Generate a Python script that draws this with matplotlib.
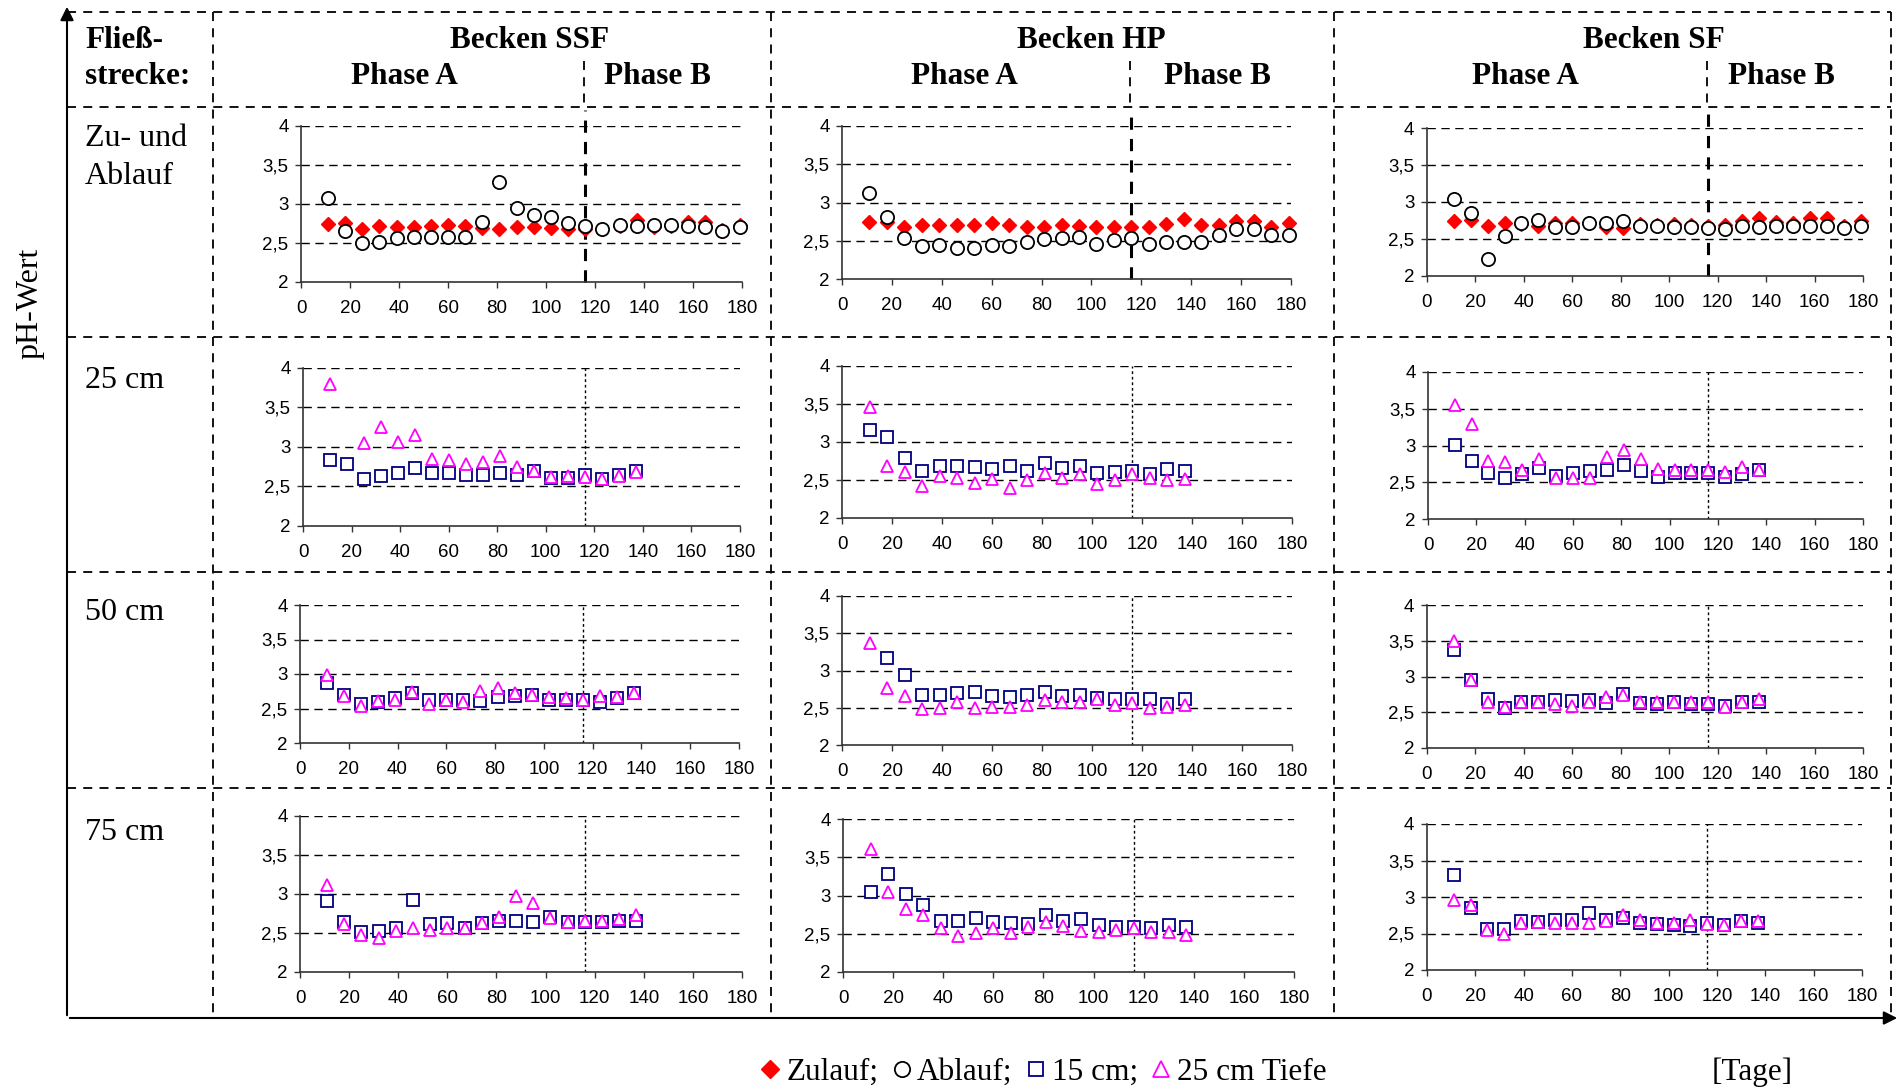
import matplotlib.pyplot as plt
from matplotlib.lines import Line2D
from matplotlib.patches import FancyArrowPatch

# Probenahmetage
days = [11, 18, 25, 32, 39, 46, 53, 60, 67, 74, 81, 88, 95, 102, 109,
        116, 123, 130, 137, 144, 151, 158, 165, 172, 179]
days_depth = days[:19]
phase_change = 116

# Zu- und Ablauf
ssf_zulauf = [2.75, 2.76, 2.68, 2.72, 2.71, 2.71, 2.72, 2.73, 2.72, 2.69, 2.68, 2.71, 2.70,
              2.69, 2.68, 2.68, 2.68, 2.72, 2.80, 2.71, 2.72, 2.77, 2.77, 2.67, 2.73]
ssf_ablauf = [3.08, 2.66, 2.50, 2.51, 2.57, 2.58, 2.58, 2.58, 2.58, 2.77, 3.28, 2.95, 2.86,
              2.83, 2.76, 2.72, 2.68, 2.73, 2.72, 2.73, 2.73, 2.72, 2.70, 2.65, 2.70]
hp_zulauf = [2.75, 2.75, 2.68, 2.71, 2.70, 2.70, 2.71, 2.73, 2.71, 2.68, 2.68, 2.70, 2.69,
             2.68, 2.68, 2.68, 2.68, 2.72, 2.78, 2.71, 2.71, 2.76, 2.76, 2.68, 2.73]
hp_ablauf = [3.12, 2.81, 2.54, 2.43, 2.44, 2.41, 2.41, 2.44, 2.43, 2.49, 2.52, 2.54, 2.55,
             2.46, 2.51, 2.53, 2.46, 2.48, 2.49, 2.48, 2.58, 2.66, 2.66, 2.58, 2.58]
sf_zulauf = [2.74, 2.76, 2.67, 2.71, 2.70, 2.68, 2.71, 2.72, 2.71, 2.66, 2.65, 2.70, 2.69,
             2.70, 2.69, 2.68, 2.69, 2.75, 2.79, 2.73, 2.72, 2.78, 2.78, 2.68, 2.74]
sf_ablauf = [3.04, 2.85, 2.23, 2.54, 2.71, 2.76, 2.66, 2.66, 2.71, 2.71, 2.75, 2.68, 2.68,
             2.66, 2.66, 2.65, 2.64, 2.68, 2.66, 2.67, 2.67, 2.67, 2.67, 2.65, 2.67]

# 25 cm Fliessstrecke (15 cm / 25 cm Tiefe)
ssf_25_d15 = [2.83, 2.78, 2.59, 2.63, 2.67, 2.74, 2.67, 2.67, 2.64, 2.65, 2.67, 2.64, 2.69,
              2.61, 2.61, 2.64, 2.59, 2.64, 2.70]
ssf_25_d25 = [3.80, None, 3.05, 3.25, 3.06, 3.15, 2.85, 2.84, 2.78, 2.81, 2.88, 2.75, 2.69,
              2.62, 2.63, 2.62, 2.59, 2.63, 2.68]
hp_25_d15 = [3.16, 3.06, 2.79, 2.62, 2.69, 2.68, 2.67, 2.65, 2.68, 2.62, 2.72, 2.66, 2.69,
             2.59, 2.60, 2.62, 2.58, 2.65, 2.62]
hp_25_d25 = [3.46, 2.69, 2.60, 2.42, 2.55, 2.52, 2.46, 2.51, 2.39, 2.50, 2.59, 2.52, 2.58,
             2.45, 2.50, 2.58, 2.52, 2.50, 2.51]
sf_25_d15 = [3.01, 2.79, 2.62, 2.56, 2.61, 2.69, 2.59, 2.62, 2.65, 2.67, 2.74, 2.65, 2.57,
             2.62, 2.62, 2.62, 2.57, 2.61, 2.66]
sf_25_d25 = [3.55, 3.29, 2.79, 2.77, 2.66, 2.81, 2.56, 2.56, 2.56, 2.85, 2.94, 2.81, 2.68,
             2.66, 2.66, 2.66, 2.64, 2.71, 2.66]

# 50 cm Fliessstrecke
ssf_50_d15 = [2.87, 2.69, 2.57, 2.59, 2.65, 2.72, 2.62, 2.62, 2.62, 2.61, 2.67, 2.68, 2.70,
              2.62, 2.62, 2.62, 2.59, 2.65, 2.72]
ssf_50_d25 = [2.98, 2.68, 2.53, 2.61, 2.62, 2.74, 2.57, 2.62, 2.59, 2.76, 2.79, 2.73, 2.69,
              2.67, 2.65, 2.63, 2.68, 2.67, 2.72]
hp_50_d15 = [None, 3.17, 2.94, 2.67, 2.67, 2.70, 2.71, 2.66, 2.64, 2.67, 2.71, 2.66, 2.67,
             2.63, 2.62, 2.62, 2.62, 2.55, 2.62]
hp_50_d25 = [3.37, 2.76, 2.66, 2.48, 2.50, 2.58, 2.49, 2.51, 2.51, 2.54, 2.61, 2.58, 2.58,
             2.62, 2.54, 2.57, 2.50, 2.51, 2.54]
sf_50_d15 = [3.37, 2.95, 2.69, 2.56, 2.64, 2.64, 2.67, 2.66, 2.67, 2.63, 2.75, 2.63, 2.61,
             2.64, 2.61, 2.61, 2.59, 2.64, 2.65]
sf_50_d25 = [3.49, 2.95, 2.65, 2.57, 2.64, 2.64, 2.61, 2.59, 2.64, 2.72, 2.74, 2.65, 2.64,
             2.65, 2.64, 2.64, 2.57, 2.65, 2.68]

# 75 cm Fliessstrecke
ssf_75_d15 = [2.91, 2.64, 2.51, 2.52, 2.56, 2.92, 2.62, 2.63, 2.56, 2.63, 2.65, 2.66, 2.64,
              2.70, 2.64, 2.64, 2.64, 2.66, 2.66]
ssf_75_d25 = [3.11, 2.62, 2.47, 2.44, 2.53, 2.57, 2.54, 2.57, 2.56, 2.63, 2.71, 2.98, 2.89,
              2.69, 2.64, 2.65, 2.65, 2.68, 2.73]
hp_75_d15 = [3.05, 3.28, 3.02, 2.87, 2.67, 2.67, 2.71, 2.65, 2.64, 2.63, 2.75, 2.67, 2.69,
             2.62, 2.59, 2.59, 2.57, 2.61, 2.59]
hp_75_d25 = [3.61, 3.05, 2.83, 2.75, 2.57, 2.47, 2.51, 2.57, 2.51, 2.59, 2.65, 2.60, 2.53,
             2.52, 2.55, 2.57, 2.52, 2.52, 2.49]
sf_75_d15 = [3.30, 2.85, 2.56, 2.56, 2.67, 2.66, 2.69, 2.69, 2.78, 2.69, 2.71, 2.65, 2.63,
             2.62, 2.60, 2.65, 2.62, 2.67, 2.65]
sf_75_d25 = [2.96, 2.89, 2.55, 2.50, 2.64, 2.66, 2.65, 2.65, 2.65, 2.67, 2.75, 2.69, 2.65,
             2.65, 2.69, 2.63, 2.61, 2.67, 2.67]

becken = ['Becken SSF', 'Becken HP', 'Becken SF']
strecken = ['25 cm', '50 cm', '75 cm']
y_ticks = [2, 2.5, 3, 3.5, 4]
y_ticklabels = ['2', '2,5', '3', '3,5', '4']
x_ticks = list(range(0, 181, 20))

row_top = [(ssf_zulauf, ssf_ablauf), (hp_zulauf, hp_ablauf), (sf_zulauf, sf_ablauf)]
rows_depth = [
    [(ssf_25_d15, ssf_25_d25), (hp_25_d15, hp_25_d25), (sf_25_d15, sf_25_d25)],
    [(ssf_50_d15, ssf_50_d25), (hp_50_d15, hp_50_d25), (sf_50_d15, sf_50_d25)],
    [(ssf_75_d15, ssf_75_d25), (hp_75_d15, hp_75_d25), (sf_75_d15, sf_75_d25)],
]

SERIF = 'Liberation Serif'
SANS = 'Liberation Sans'
W, H = 1901, 1091
fig = plt.figure(figsize=(W / 100, H / 100), dpi=100)


def fx(px):
    return px / W


def fy(py):
    return 1 - py / H


# plot boxes in pixels: left, top, right, bottom
boxes = [
    [(301, 126, 742, 282), (842, 126, 1291, 279), (1427, 128, 1863, 276)],
    [(303, 368, 740, 526), (842, 366, 1292, 518), (1428, 372, 1863, 519)],
    [(300, 605, 739, 743), (842, 596, 1292, 745), (1427, 605, 1863, 748)],
    [(300, 816, 742, 972), (843, 819, 1294, 972), (1427, 824, 1862, 970)],
]


def make_axes(box):
    l, t, r, b = box
    ax = fig.add_axes([fx(l), fy(b), (r - l) / W, (b - t) / H])
    ax.set_xlim(0, 180)
    ax.set_ylim(2, 4)
    ax.set_xticks(x_ticks)
    ax.set_yticks(y_ticks)
    ax.set_yticklabels(y_ticklabels)
    ax.patch.set_alpha(0)
    for y in y_ticks[1:]:
        ax.axhline(y, color='black', lw=1, ls=(0, (6, 4)), zorder=0)
    for s in ['top', 'right']:
        ax.spines[s].set_visible(False)
    for s in ['left', 'bottom']:
        ax.spines[s].set_color('#333333')
        ax.spines[s].set_linewidth(1.2)
    ax.tick_params(direction='out', length=4, width=1, color='#333333', labelsize=13.5)
    ax.tick_params(axis='x', pad=9)
    ax.tick_params(axis='y', pad=5)
    for lab in ax.get_xticklabels() + ax.get_yticklabels():
        lab.set_family(SANS)
    return ax


for c in range(3):
    ax = make_axes(boxes[0][c])
    zu, ab = row_top[c]
    ax.axvline(phase_change, 0, 1.1, color='black', lw=2.2, ls=(0, (4, 3)), clip_on=False)
    ax.plot(days, zu, ls='none', marker='D', color='#FF0000', ms=7, clip_on=False)
    ax.plot(days, ab, ls='none', marker='o', mfc='white', mec='black', ms=9.5, mew=1.3,
            clip_on=False)

for r in range(3):
    for c in range(3):
        ax = make_axes(boxes[r + 1][c])
        d15, d25 = rows_depth[r][c]
        ax.axvline(phase_change, color='black', lw=1, ls=(0, (2, 2)))
        ax.plot(days_depth, [v if v is not None else float('nan') for v in d15],
                ls='none', marker='s', mfc='white', mec='#000080', ms=8, mew=1.3)
        ax.plot(days_depth, [v if v is not None else float('nan') for v in d25],
                ls='none', marker='^', mfc='white', mec='#FF00FF', ms=9, mew=1.3)

# table frame
dash = dict(color='black', lw=1.3, ls=(0, (5, 4)))


def line(x0, y0, x1, y1, **kw):
    fig.add_artist(Line2D([fx(x0), fx(x1)], [fy(y0), fy(y1)], transform=fig.transFigure, **kw))


for y in [12, 107, 337, 572, 788]:
    line(67, y, 1891, y, **dash)
for x in [213, 771, 1334, 1891]:
    line(x, 12, x, 1018, **dash)
for x in [584, 1130, 1707]:
    line(x, 61, x, 107, **dash)

fig.add_artist(FancyArrowPatch((fx(67), fy(1018)), (fx(67), fy(4)), transform=fig.transFigure,
                               arrowstyle='-|>', mutation_scale=20, color='black', lw=1.5))
fig.add_artist(FancyArrowPatch((fx(67), fy(1018)), (fx(1900), fy(1018)), transform=fig.transFigure,
                               arrowstyle='-|>', mutation_scale=20, color='black', lw=1.5))

# header
hdr = dict(family=SERIF, weight='bold', size=22.5, va='center')
fig.text(fx(85), fy(40), 'Fließ-', ha='left', **hdr)
fig.text(fx(85), fy(76), 'strecke:', ha='left', **hdr)
for name, xc, xa, xb in zip(becken, [530, 1091, 1654], [404, 964, 1525], [657, 1217, 1781]):
    fig.text(fx(xc), fy(40), name, ha='center', **hdr)
    fig.text(fx(xa), fy(76), 'Phase A', ha='center', **hdr)
    fig.text(fx(xb), fy(76), 'Phase B', ha='center', **hdr)

lbl = dict(family=SERIF, size=23, va='center', ha='left')
fig.text(fx(85), fy(139), 'Zu- und', **lbl)
fig.text(fx(85), fy(176), 'Ablauf', **lbl)
for name, y in zip(strecken, [380, 612, 832]):
    fig.text(fx(85), fy(y), name, **lbl)

fig.text(fx(30), fy(303), 'pH-Wert', family=SERIF, size=23, rotation=90,
         ha='center', va='center')
fig.text(fx(1752), fy(1072), '[Tage]', family=SERIF, size=22.5, ha='center', va='center')

handles = [
    Line2D([], [], ls='none', marker='D', color='#FF0000', ms=9),
    Line2D([], [], ls='none', marker='o', mfc='white', mec='black', ms=11, mew=1.3),
    Line2D([], [], ls='none', marker='s', mfc='white', mec='#000080', ms=10, mew=1.3),
    Line2D([], [], ls='none', marker='^', mfc='white', mec='#FF00FF', ms=11, mew=1.3),
]
fig.legend(handles, ['Zulauf;', 'Ablauf;', '15 cm;', '25 cm Tiefe'], loc='center',
           bbox_to_anchor=(fx(1043), fy(1072)), ncol=4, frameon=False,
           prop={'family': SERIF, 'size': 22.5}, handletextpad=0.15,
           columnspacing=0.4, handlelength=0.7, borderpad=0)

fig.savefig('out.png', dpi=100)
